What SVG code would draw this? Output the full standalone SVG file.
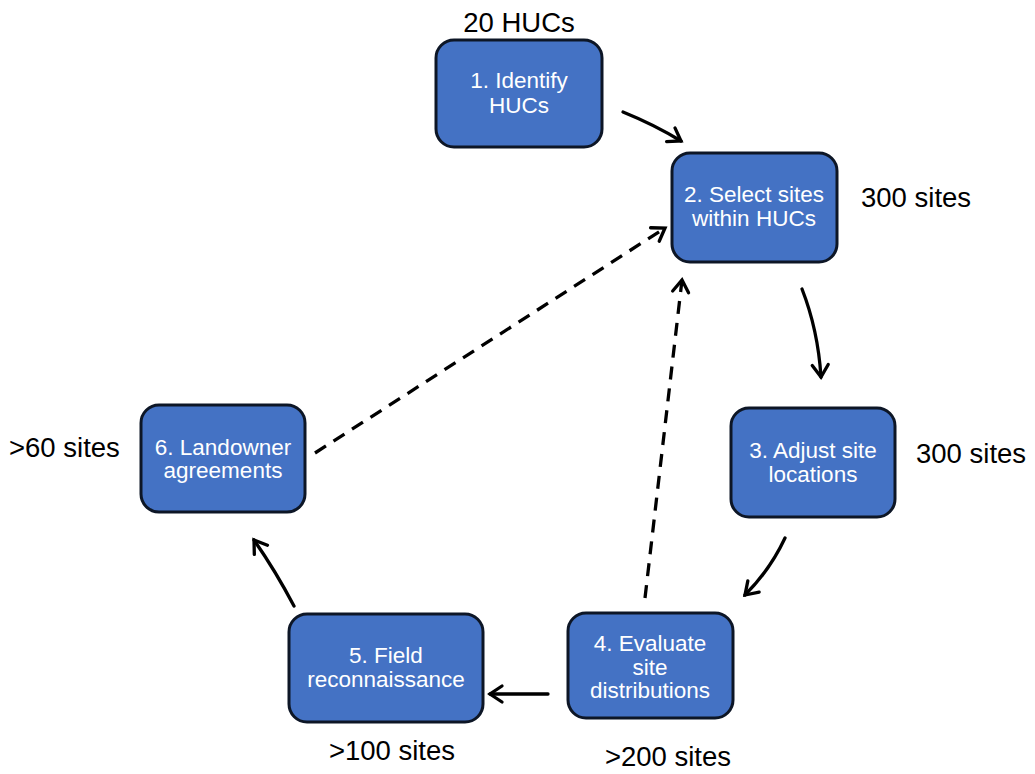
<svg xmlns="http://www.w3.org/2000/svg" width="1035" height="774" viewBox="0 0 1035 774">
<style>
.box{fill:#4472C4;stroke:#0d1626;stroke-width:3}
.nt{font-family:"Liberation Sans",Arial,sans-serif;font-size:22.5px;fill:#ffffff;text-anchor:middle}
.lbl{font-family:"Liberation Sans",Arial,sans-serif;font-size:27.5px;fill:#000000}
.c{fill:none;stroke:#000;stroke-width:3.3;stroke-linecap:round}
.d{stroke-dasharray:13 9;stroke-linecap:butt}
</style>
<defs>
<marker id="ah" markerUnits="userSpaceOnUse" markerWidth="30" markerHeight="30" refX="0" refY="0" viewBox="-15 -15 30 30" orient="auto" overflow="visible">
<path d="M-12,-8 L0,0 L-12,8" fill="none" stroke="#000" stroke-width="3.3" stroke-linecap="round" stroke-linejoin="miter"/>
</marker>
</defs>
<rect width="1035" height="774" fill="#ffffff"/>
<g id="connectors">
<path class="c" d="M623,112 Q655,125 681,141" marker-end="url(#ah)"/>
<path class="c" d="M802,289 Q818,330 821,377" marker-end="url(#ah)"/>
<path class="c" d="M785,538 Q770,570 745,595" marker-end="url(#ah)"/>
<path class="c" d="M548,694 L490,694" marker-end="url(#ah)"/>
<path class="c" d="M294,606 Q275,570 254,540" marker-end="url(#ah)"/>
<path class="c d" d="M645,598 L682,280" marker-end="url(#ah)"/>
<path class="c d" d="M315,453 L665,228" marker-end="url(#ah)"/>
</g>
<g id="node1">
<rect class="box" x="436" y="40" width="166" height="107" rx="18"/>
<text class="nt" x="519" y="88">1. Identify</text>
<text class="nt" x="519" y="113">HUCs</text>
</g>
<g id="node2">
<rect class="box" x="672" y="153" width="165" height="109" rx="18"/>
<text class="nt" x="754" y="202">2. Select sites</text>
<text class="nt" x="754" y="226">within HUCs</text>
</g>
<g id="node3">
<rect class="box" x="731" y="408" width="164" height="109" rx="18"/>
<text class="nt" x="813" y="458">3. Adjust site</text>
<text class="nt" x="813" y="482">locations</text>
</g>
<g id="node4">
<rect class="box" x="568" y="613" width="165" height="105" rx="18"/>
<text class="nt" x="650" y="651">4. Evaluate</text>
<text class="nt" x="650" y="674.5">site</text>
<text class="nt" x="650" y="698">distributions</text>
</g>
<g id="node5">
<rect class="box" x="289" y="614" width="194" height="108" rx="18"/>
<text class="nt" x="386" y="663">5. Field</text>
<text class="nt" x="386" y="687">reconnaissance</text>
</g>
<g id="node6">
<rect class="box" x="141" y="405" width="164" height="107" rx="18"/>
<text class="nt" x="223" y="455">6. Landowner</text>
<text class="nt" x="223" y="478">agreements</text>
</g>
<g id="labels">
<text class="lbl" x="519" y="32" text-anchor="middle">20 HUCs</text>
<text class="lbl" x="861" y="207">300 sites</text>
<text class="lbl" x="916" y="463">300 sites</text>
<text class="lbl" x="668" y="766" text-anchor="middle">&gt;200 sites</text>
<text class="lbl" x="392" y="760" text-anchor="middle">&gt;100 sites</text>
<text class="lbl" x="9" y="457">&gt;60 sites</text>
</g>
</svg>
